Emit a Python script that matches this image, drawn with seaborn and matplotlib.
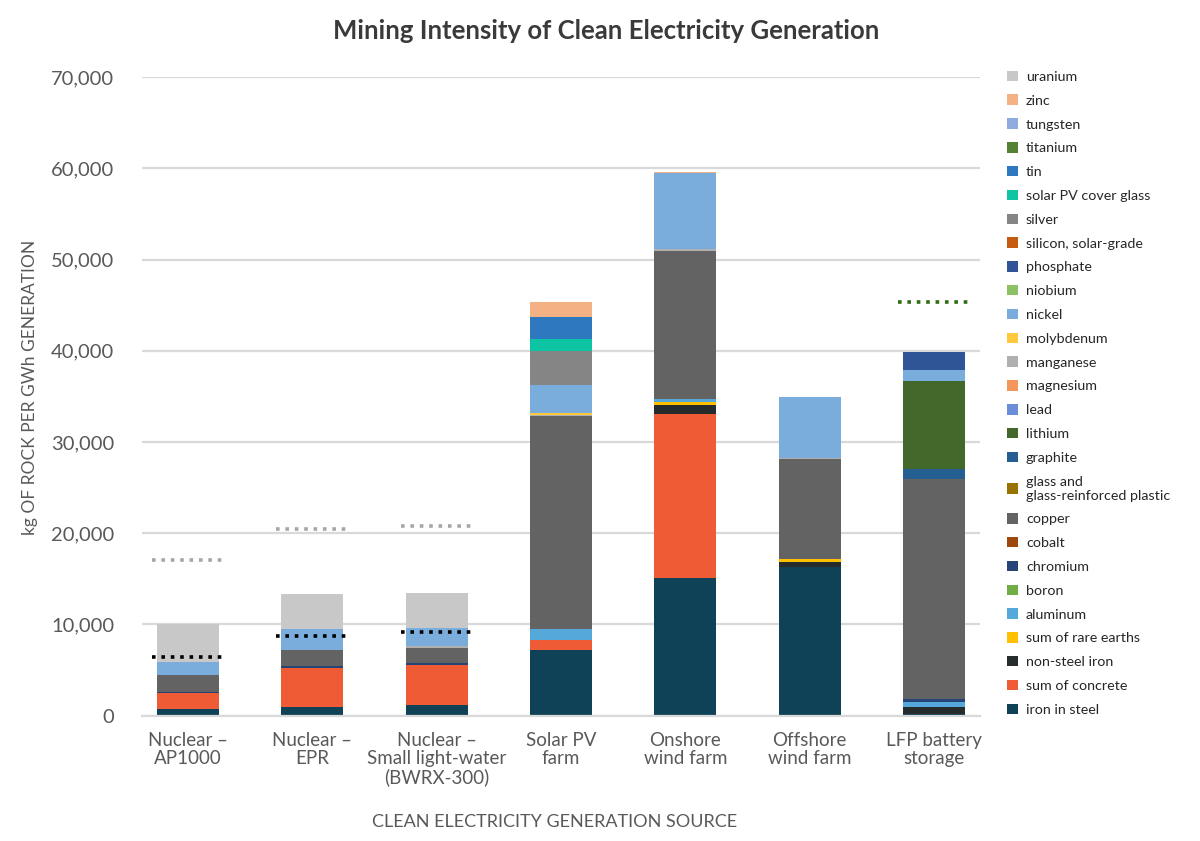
import numpy as np
import pandas as pd
import matplotlib
matplotlib.use("Agg")
import matplotlib.pyplot as plt
import seaborn as sns
from matplotlib.patches import Patch
from matplotlib.ticker import FuncFormatter, MultipleLocator

sns.set_theme(style="white")
plt.rcParams["font.family"] = ["Lato", "DejaVu Sans"]

# ---------------- data ----------------
sources = ["Nuclear –\nAP1000", "Nuclear –\nEPR", "Nuclear –\nSmall light-water\n(BWRX-300)",
           "Solar PV\nfarm", "Onshore\nwind farm", "Offshore\nwind farm", "LFP battery\nstorage"]

# stacking order: bottom -> top
materials = ["iron in steel", "sum of concrete", "non-steel iron", "sum of rare earths", "aluminum",
             "boron", "chromium", "cobalt", "copper", "glass and\nglass-reinforced plastic",
             "graphite", "lithium", "lead", "magnesium", "manganese", "molybdenum", "nickel",
             "niobium", "phosphate", "silicon, solar-grade", "silver", "solar PV cover glass",
             "tin", "titanium", "tungsten", "zinc", "uranium"]

iron_in_steel      = [700, 990, 1140, 7210, 15080, 16250, 200]
sum_of_concrete    = [1800, 4280, 4420, 1100, 18000, 0, 0]
non_steel_iron     = [0, 0, 0, 0, 1020, 550, 800]
sum_of_rare_earths = [0, 0, 0, 0, 300, 400, 0]
aluminum           = [0, 0, 0, 1200, 330, 0, 550]
boron              = [0, 0, 0, 0, 0, 0, 0]
chromium           = [100, 150, 190, 0, 0, 0, 250]
cobalt             = [0, 0, 0, 0, 0, 0, 0]
copper             = [1870, 1790, 1710, 23300, 16200, 10900, 24140]
glass_grp          = [0, 0, 0, 0, 0, 0, 0]
graphite           = [0, 0, 0, 0, 0, 0, 1100]
lithium            = [0, 0, 0, 0, 0, 0, 9620]
lead               = [0, 0, 0, 0, 0, 0, 0]
magnesium          = [0, 0, 0, 0, 0, 0, 0]
manganese          = [0, 0, 140, 120, 260, 190, 0]
molybdenum         = [0, 0, 80, 250, 0, 0, 0]
nickel             = [1460, 2270, 1910, 3110, 8340, 6590, 1280]
niobium            = [0, 0, 0, 0, 0, 0, 0]
phosphate          = [0, 0, 0, 0, 0, 0, 1890]
silicon            = [0, 0, 0, 0, 0, 0, 0]
silver             = [0, 0, 0, 3650, 0, 0, 0]
solar_cover_glass  = [0, 0, 0, 1360, 0, 0, 0]
tin                = [0, 0, 0, 2380, 0, 0, 0]
titanium           = [0, 0, 0, 0, 0, 0, 0]
tungsten           = [0, 0, 0, 0, 0, 0, 0]
zinc               = [0, 0, 0, 1640, 80, 60, 0]
uranium            = [4070, 3880, 3910, 0, 0, 0, 0]

series = [iron_in_steel, sum_of_concrete, non_steel_iron, sum_of_rare_earths, aluminum, boron,
          chromium, cobalt, copper, glass_grp, graphite, lithium, lead, magnesium, manganese,
          molybdenum, nickel, niobium, phosphate, silicon, silver, solar_cover_glass, tin,
          titanium, tungsten, zinc, uranium]

colors = ["#0f4257", "#ee5b35", "#262b2c", "#ffc000", "#55a8da", "#70ad47", "#264478", "#9e480e",
          "#636363", "#997300", "#255e91", "#43682b", "#6a8fd8", "#f4955a", "#b0b0b0", "#ffc83d",
          "#7aaddc", "#8cc168", "#2f5597", "#c55a11", "#858585", "#0dc4a3", "#2e78bf", "#548235",
          "#8faadc", "#f4b183", "#c8c8c8"]

# dotted reference markers
nuclear_low_marker  = [6480, 8750, 9150, np.nan, np.nan, np.nan, np.nan]
nuclear_high_marker = [17060, 20490, 20790, np.nan, np.nan, np.nan, np.nan]
lfp_marker          = [np.nan, np.nan, np.nan, np.nan, np.nan, np.nan, 45370]

# ---------------- frame ----------------
df = pd.DataFrame(dict(zip(materials, series)))
df.insert(0, "source", sources)
cum = df[materials].cumsum(axis=1)
cum["source"] = sources

fig = plt.figure(figsize=(12, 8.41), dpi=100)
ax = fig.add_axes([0.1183, 0.149, 0.6984, 0.7594])

grid_c = "#d9d9d9"
ax.yaxis.set_major_locator(MultipleLocator(10000))
ax.grid(axis="y", color=grid_c, lw=1.6, zorder=0)
ax.set_axisbelow(True)

for mat, col in reversed(list(zip(materials, colors))):
    sns.barplot(data=cum, x="source", y=mat, order=sources, color=col, width=0.5,
                saturation=1, linewidth=0, errorbar=None, ax=ax, zorder=2)

xs = np.arange(len(sources))
hw = 0.29
for vals, col in [(nuclear_low_marker, "#000000"), (nuclear_high_marker, "#a6a6a6"),
                  (lfp_marker, "#2e6b12")]:
    v = np.array(vals, dtype=float)
    m = ~np.isnan(v)
    ax.hlines(v[m], xs[m] - hw, xs[m] + hw, colors=col, linestyles=(0, (1, 1.6)),
              lw=2.6, zorder=3)

ax.set_xlim(-0.37, 6.37)
ax.set_ylim(0, 70000)
for s in ["left", "right", "top"]:
    ax.spines[s].set_visible(False)
ax.spines["bottom"].set_color(grid_c)
ax.spines["bottom"].set_linewidth(1.6)

txt_c = "#595959"
ax.yaxis.set_major_formatter(FuncFormatter(lambda v, p: f"{int(v):,}"))
ax.tick_params(axis="y", length=0, labelsize=14.5, labelcolor=txt_c, pad=20)
ax.tick_params(axis="x", length=0, labelsize=13.5, labelcolor=txt_c, pad=12)
for lab in ax.get_xticklabels():
    lab.set_linespacing(1.05)
ax.set_xlabel("")
ax.set_ylabel("")

fig.text(0.505, 0.963, "Mining Intensity of Clean Electricity Generation", ha="center",
         va="center", fontsize=18.5, fontweight="bold", color="#3a3a3a")
fig.text(0.025, 0.539, "kg OF ROCK PER GWh GENERATION", rotation=90, ha="center",
         va="center", fontsize=12.5, color=txt_c)
fig.text(0.462, 0.0226, "CLEAN ELECTRICITY GENERATION SOURCE", ha="center", va="center",
         fontsize=13, color=txt_c)

handles = [Patch(facecolor=c, edgecolor="none", label=m)
           for m, c in zip(materials, colors)][::-1]
leg = fig.legend(handles=handles, loc="upper left", bbox_to_anchor=(0.8395, 0.916),
                 frameon=False, fontsize=10.3, handlelength=0.75, handleheight=0.75,
                 handletextpad=0.55, labelspacing=0.81, borderaxespad=0, borderpad=0)
for t in leg.get_texts():
    t.set_color("#262626")

fig.savefig("out.png", dpi=100)
